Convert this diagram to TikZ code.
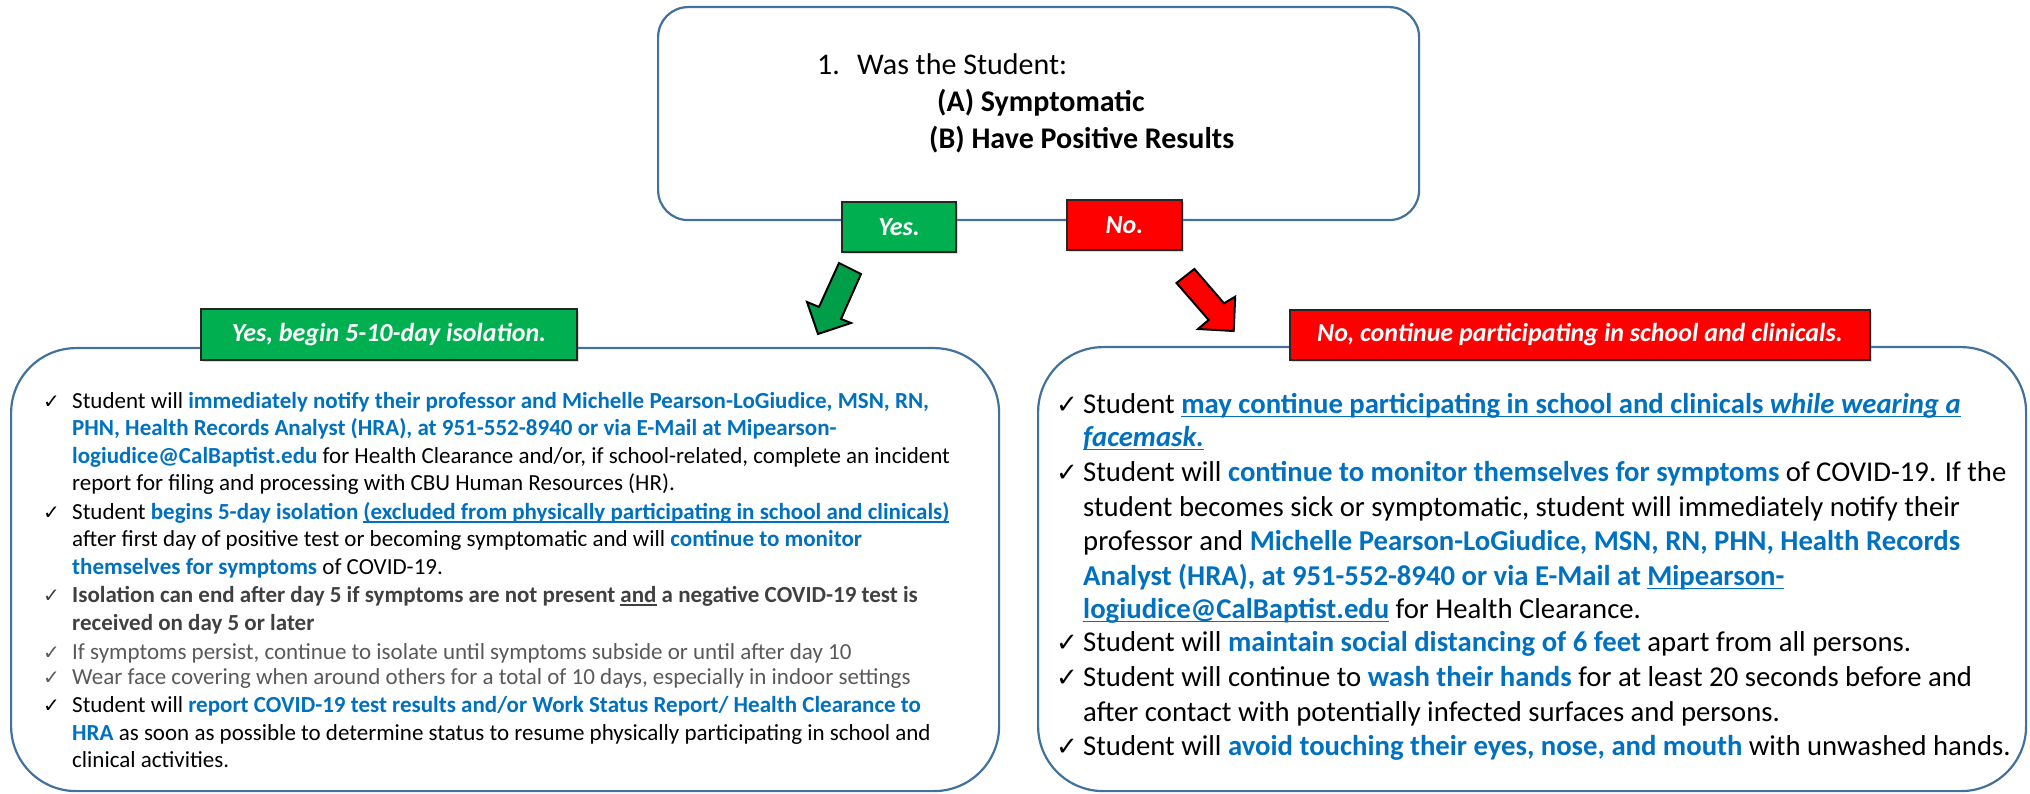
\documentclass[tikz,border=0pt]{standalone}
\usepackage{fontspec}
\setmainfont{Carlito}
\newfontfamily\chkfont{DejaVu Sans}
\usetikzlibrary{shadows}
\definecolor{cbblue}{HTML}{0070C0}
\definecolor{boxline}{HTML}{41719C}
\definecolor{cgreen}{HTML}{00B050}
\definecolor{cred}{HTML}{FF0000}
\definecolor{dgray}{HTML}{404040}
\definecolor{mgray}{HTML}{595959}
\newcommand{\hb}[1]{\textcolor{cbblue}{\textbf{#1}}}
\newsavebox\ulbox
\newcommand{\ulx}[1]{\sbox\ulbox{#1}\rlap{\rule[-3.5pt]{\wd\ulbox}{1.5pt}}\usebox\ulbox}
\begin{document}
\begin{tikzpicture}[x=1pt,y=-1pt,
  bigbox/.style={draw=boxline, line width=2.2pt, rounded corners=65pt, anchor=north west, inner sep=0pt},
  tag/.style={draw=black!85, line width=1.6pt, text=white, inner sep=0pt,
     font=\bfseries\itshape\fontsize{26}{30}\selectfont,
     drop shadow={shadow xshift=2pt, shadow yshift=-2pt, opacity=0.3}},
  blockarrow/.style={draw=black, line width=2pt, line join=miter},
  lt/.style={anchor=base west, inner sep=0pt, font=\fontsize{23}{27}\selectfont},
  rt/.style={anchor=base west, inner sep=0pt, font=\fontsize{28.7}{34}\selectfont},
  ckl/.style={anchor=base west, inner sep=0pt, font=\chkfont\fontsize{20}{20}\selectfont},
  ckr/.style={anchor=base west, inner sep=0pt, font=\chkfont\fontsize{26}{26}\selectfont},
  qt/.style={anchor=base west, inner sep=0pt, font=\fontsize{30}{36}\selectfont}]
\useasboundingbox (0,0) rectangle (2030,794);

% question box
\node[bigbox, rounded corners=30pt, minimum width=761pt, minimum height=213pt] (q) at (657,6) {};
\node[qt] (q1) at (817,75) {1.};
\node[qt] (q2) at (857,75) {Was the Student:};
\node[qt, font=\bfseries\fontsize{30}{36}\selectfont] (qa) at (937,112) {(A) Symptomatic};
\node[qt, font=\bfseries\fontsize{30}{36}\selectfont] (qb) at (929,149) {(B) Have Positive Results};

\node[tag, fill=cgreen, minimum width=114pt, minimum height=50pt] (yes) at (899,227) {Yes.};
\node[tag, fill=cred, minimum width=115pt, minimum height=50pt] (no) at (1124.5,225) {No.};

% block arrows
\draw[blockarrow, fill=cgreen!90!black] (839,263) -- (861,274) -- (841,319) -- (851,323) -- (818,334) -- (807,302) -- (819,307) -- cycle;
\draw[blockarrow, fill=cred] (1176.5,283) -- (1194.4,269) -- (1224,303.3) -- (1235.2,296.7) -- (1233.7,331) -- (1198,329) -- (1208.7,320) -- cycle;

% big boxes
\node[bigbox, minimum width=988pt, minimum height=443pt] (lb) at (10,347) {};
\node[bigbox, minimum width=988pt, minimum height=444pt] (rb) at (1037,346) {};

\node[tag, fill=cgreen, minimum width=376pt, minimum height=51pt] (ylab) at (389,334.5) {Yes, begin 5-10-day isolation.};
\node[tag, fill=cred, minimum width=580pt, minimum height=50pt] (nlab) at (1580,335) {No, continue participating in school and clinicals.};

% left text
\node[ckl] (lc1) at (43,408) {✓};
\node[lt] (l1) at (72,408) {Student will \hb{immediately notify their professor and Michelle Pearson-LoGiudice, MSN, RN,}};
\node[lt] (l2) at (72,435) {\hb{PHN, Health Records Analyst (HRA), at 951-552-8940 or via E-Mail at Mipearson-}};
\node[lt] (l3) at (72,463) {\hb{logiudice@CalBaptist.edu} for Health Clearance and/or, if school-related, complete an incident};
\node[lt] (l4) at (72,490) {report for filing and processing with CBU Human Resources (HR).};
\node[ckl] (lc5) at (43,519) {✓};
\node[lt] (l5) at (72,519) {Student \hb{begins 5-day isolation \ulx{(excluded from physically participating in school and clinicals)}}};
\node[lt] (l6) at (72,546) {after first day of positive test or becoming symptomatic and will \hb{continue to monitor}};
\node[lt] (l7) at (72,574) {\hb{themselves for symptoms} of COVID-19.};
\node[ckl, text=dgray] (lc8) at (43,602) {✓};
\node[lt, text=dgray] (l8) at (72,602) {\textbf{Isolation can end after day 5 if symptoms are not present \ulx{and} a negative COVID-19 test is}};
\node[lt, text=dgray] (l9) at (72,630) {\textbf{received on day 5 or later}};
\node[ckl, text=mgray] (lc10) at (43,659) {✓};
\node[lt, text=mgray] (l10) at (72,659) {If symptoms persist, continue to isolate until symptoms subside or until after day 10};
\node[ckl, text=mgray] (lc11) at (43,684) {✓};
\node[lt, text=mgray] (l11) at (72,684) {Wear face covering when around others for a total of 10 days, especially in indoor settings};
\node[ckl] (lc12) at (43,712) {✓};
\node[lt] (l12) at (72,712) {Student will \hb{report COVID-19 test results and/or Work Status Report/ Health Clearance to}};
\node[lt] (l13) at (72,740) {\hb{HRA} as soon as possible to determine status to resume physically participating in school and};
\node[lt] (l14) at (72,767) {clinical activities.};

% right text
\node[ckr] (rc1) at (1056,413.5) {✓};
\node[rt] (r1) at (1083,413.5) {Student \textcolor{cbblue}{\bfseries\ulx{may continue participating in school and clinicals \textit{while wearing a}}}};
\node[rt] (r2) at (1083,446.5) {\textcolor{cbblue}{\bfseries\itshape\ulx{facemask.}}};
\node[ckr] (rc3) at (1056,481.5) {✓};
\node[rt] (r3) at (1083,481.5) {Student will \hb{continue to monitor themselves for symptoms} of COVID-19. If the};
\node[rt] (r4) at (1083,516.5) {student becomes sick or symptomatic, student will immediately notify their};
\node[rt] (r5) at (1083,550.5) {professor and \hb{Michelle Pearson-LoGiudice, MSN, RN, PHN, Health Records}};
\node[rt] (r6) at (1083,585.5) {\hb{Analyst (HRA), at 951-552-8940 or via E-Mail at \ulx{Mipearson-}}};
\node[rt] (r7) at (1083,618.5) {\hb{\ulx{logiudice@CalBaptist.edu}} for Health Clearance.};
\node[ckr] (rc8) at (1056,651.5) {✓};
\node[rt] (r8) at (1083,651.5) {Student will \hb{maintain social distancing of 6 feet} apart from all persons.};
\node[ckr] (rc9) at (1056,686.5) {✓};
\node[rt] (r9) at (1083,686.5) {Student will continue to \hb{wash their hands} for at least 20 seconds before and};
\node[rt] (r10) at (1083,721.5) {after contact with potentially infected surfaces and persons.};
\node[ckr] (rc11) at (1056,755.5) {✓};
\node[rt] (r11) at (1083,755.5) {Student will \hb{avoid touching their eyes, nose, and mouth} with unwashed hands.};
\end{tikzpicture}
\end{document}
